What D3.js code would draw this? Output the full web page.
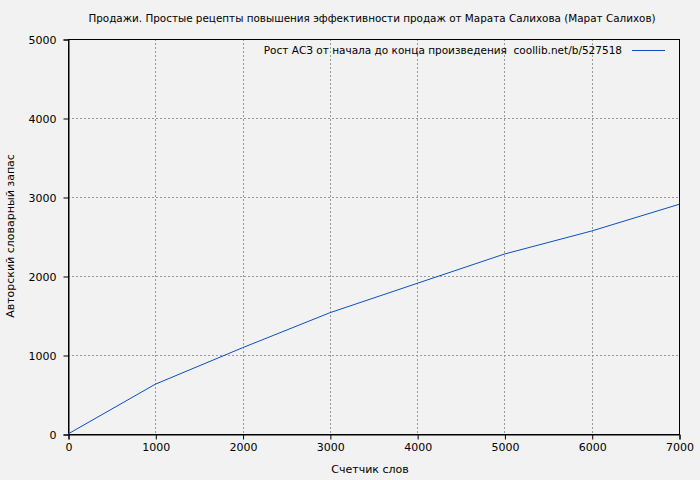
<!DOCTYPE html>
<html><head><meta charset="utf-8">
<script src="https://cdn.jsdelivr.net/npm/d3@7"></script>
<style>body{margin:0;background:#f2f2f2;}svg{display:block;}</style>
</head><body>
<script>
const xValues = [0, 1000, 2000, 3000, 4000, 5000, 6000, 7000];
const yValues = [0, 630, 1092, 1535, 1907, 2278, 2570, 2907];
const xTicks = [0, 1000, 2000, 3000, 4000, 5000, 6000, 7000];
const yTicks = [0, 1000, 2000, 3000, 4000, 5000];
const title = "Продажи. Простые рецепты повышения эффективности продаж от Марата Салихова (Марат Салихов)";
const xLabel = "Счетчик слов";
const yLabel = "Авторский словарный запас";
const legendLabel = "Рост АСЗ от начала до конца произведения  coollib.net/b/527518";

const W = 700, H = 480;
const m = {left: 68, right: 21, top: 39, bottom: 46};
const font = "DejaVu Sans, Verdana, sans-serif";
const svg = d3.select("body").append("svg").attr("width", W).attr("height", H)
  .style("font-family", font);
svg.append("rect").attr("width", W).attr("height", H).attr("fill", "#f2f2f2");

const x = d3.scaleLinear().domain([0, 7000]).range([m.left, W - m.right]);
const y = d3.scaleLinear().domain([0, 5000]).range([H - m.bottom, m.top]);

// grid
const g = svg.append("g");
g.selectAll(".vg").data(xTicks.slice(1, -1)).join("line")
  .attr("x1", d => Math.round(x(d)) + 0.5).attr("x2", d => Math.round(x(d)) + 0.5)
  .attr("y1", m.top).attr("y2", H - m.bottom)
  .attr("stroke", "#999").attr("stroke-dasharray", "2,2");
g.selectAll(".hg").data(yTicks.slice(1, -1)).join("line")
  .attr("y1", d => Math.round(y(d)) + 0.5).attr("y2", d => Math.round(y(d)) + 0.5)
  .attr("x1", m.left).attr("x2", W - m.right)
  .attr("stroke", "#999").attr("stroke-dasharray", "2,2");

// border
svg.append("rect").attr("x", m.left + 0.5).attr("y", m.top + 0.5)
  .attr("width", W - m.left - m.right).attr("height", H - m.top - m.bottom)
  .attr("fill", "none").attr("stroke", "#000");

// axes
const xAxis = svg.append("g").attr("transform", `translate(0.5,${H - m.bottom + 0.5})`)
  .call(d3.axisBottom(x).tickValues(xTicks).tickSize(5).tickPadding(4).tickFormat(d3.format("d")));
const yAxis = svg.append("g").attr("transform", `translate(${m.left + 0.5},0.5)`)
  .call(d3.axisLeft(y).tickValues(yTicks).tickSize(5).tickPadding(7).tickFormat(d3.format("d")));
[xAxis, yAxis].forEach(a => {
  a.select(".domain").attr("stroke", "#000");
  a.selectAll("text").attr("font-family", font).attr("font-size", 11).attr("fill", "#000");
  a.selectAll("line").attr("stroke", "#000");
});

// line
const line = d3.line().x((d, i) => x(xValues[i])).y(d => y(d));
svg.append("path").datum(yValues).attr("d", line)
  .attr("fill", "none").attr("stroke", "#0a4fc0").attr("stroke-width", 1);

// title and labels
svg.append("text").attr("x", 372).attr("y", 22).attr("text-anchor", "middle")
  .attr("font-size", 10.4).attr("fill", "#000").text(title);
svg.append("text").attr("x", 370).attr("y", 473).attr("text-anchor", "middle")
  .attr("font-size", 11).attr("fill", "#000").text(xLabel);
svg.append("text").attr("transform", "translate(14,236) rotate(-90)").attr("text-anchor", "middle")
  .attr("font-size", 11).attr("fill", "#000").text(yLabel);

// legend
svg.append("text").attr("x", 622).attr("y", 54).attr("text-anchor", "end")
  .attr("font-size", 10.5).attr("fill", "#000").style("white-space", "pre").text(legendLabel);
svg.append("line").attr("x1", 632).attr("x2", 665).attr("y1", 50.5).attr("y2", 50.5)
  .attr("stroke", "#0a4fc0").attr("stroke-width", 1);
</script>
</body></html>
